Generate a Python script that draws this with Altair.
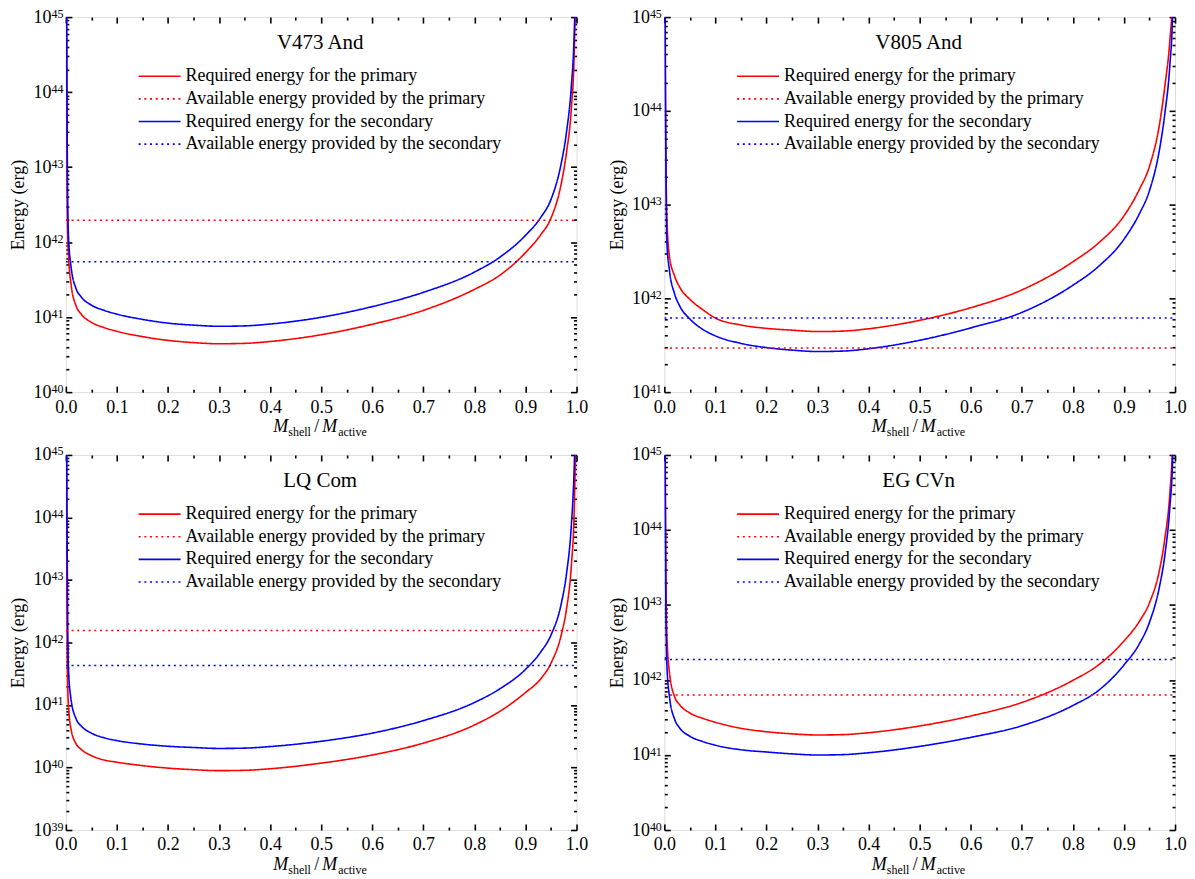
import altair as alt
import pandas as pd

# ---------------- data ----------------
X = [0.001, 0.002, 0.003, 0.005, 0.01, 0.02, 0.03, 0.05, 0.075, 0.1, 0.15, 0.2, 0.25, 0.3, 0.35,
     0.4, 0.5, 0.6, 0.7, 0.8, 0.85, 0.9, 0.93, 0.95, 0.97, 0.98, 0.99, 0.995, 0.998, 0.999]

# log10 of the energy (erg)
V473_REQ_PRIMARY = [45.5, 43.3, 42.35, 41.85, 41.45, 41.15, 41.04, 40.93, 40.86, 40.81, 40.74, 40.69, 40.66, 40.645, 40.65,
                    40.675, 40.765, 40.905, 41.09, 41.37, 41.56, 41.86, 42.10, 42.32, 42.78, 43.18, 43.8, 44.42, 45.3, 45.7]
V473_REQ_SECONDARY = [46.0, 44.4, 43.0, 42.1, 41.68, 41.38, 41.27, 41.16, 41.09, 41.04, 40.97, 40.92, 40.893, 40.878, 40.883,
                      40.908, 40.998, 41.14, 41.33, 41.60, 41.80, 42.09, 42.33, 42.57, 43.05, 43.45, 44.1, 44.7, 45.5, 46.0]
V805_REQ_PRIMARY = [46.0, 44.3, 43.6, 42.85, 42.45, 42.24, 42.12, 41.99, 41.88, 41.79, 41.716, 41.68, 41.661, 41.646, 41.651,
                    41.676, 41.766, 41.90, 42.09, 42.39, 42.59, 42.88, 43.16, 43.41, 43.87, 44.26, 44.76, 45.2, 46.0, 46.5]
V805_REQ_SECONDARY = [46.0, 44.5, 43.5, 42.6, 42.3, 42.05, 41.92, 41.78, 41.67, 41.60, 41.52, 41.475, 41.448, 41.433, 41.438,
                      41.463, 41.553, 41.685, 41.85, 42.14, 42.34, 42.63, 42.9, 43.15, 43.6, 43.97, 44.5, 45.0, 45.8, 46.3]
LQCOM_REQ_PRIMARY = [45.5, 42.8, 41.6, 41.0, 40.62, 40.38, 40.29, 40.19, 40.12, 40.085, 40.03, 39.99, 39.965, 39.95, 39.955,
                     39.98, 40.07, 40.20, 40.39, 40.68, 40.90, 41.20, 41.42, 41.67, 42.12, 42.52, 43.25, 44.0, 45.1, 45.6]
LQCOM_REQ_SECONDARY = [46.0, 44.5, 43.0, 41.6, 41.1, 40.78, 40.665, 40.55, 40.475, 40.43, 40.375, 40.34, 40.32, 40.305, 40.31,
                       40.335, 40.42, 40.55, 40.75, 41.04, 41.26, 41.57, 41.85, 42.12, 42.62, 43.08, 43.9, 44.7, 45.6, 46.0]
EGCVN_REQ_PRIMARY = [46.0, 44.6, 43.5, 42.6, 42.1, 41.78, 41.67, 41.56, 41.49, 41.436, 41.356, 41.31, 41.282, 41.267, 41.272,
                     41.297, 41.387, 41.52, 41.70, 41.995, 42.2, 42.52, 42.78, 43.03, 43.48, 43.88, 44.5, 45.1, 45.9, 46.4]
EGCVN_REQ_SECONDARY = [46.0, 44.2, 43.0, 42.2, 41.78, 41.48, 41.36, 41.25, 41.18, 41.13, 41.07, 41.04, 41.015, 41.0, 41.005,
                       41.03, 41.115, 41.235, 41.39, 41.66, 41.86, 42.20, 42.48, 42.77, 43.26, 43.66, 44.32, 44.9, 45.8, 46.3]

# available energies (log10 erg): primary, secondary
V473_AVAIL = [42.29, 41.737]
V805_AVAIL = [41.471, 41.79]
LQCOM_AVAIL = [42.19, 41.633]
EGCVN_AVAIL = [41.80, 42.274]

NAMES = ["V473 And", "V805 And", "LQ Com", "EG CVn"]
YMIN_EXP = [40, 41, 39, 40]

SERIES = ["Required energy for the primary", "Available energy provided by the primary",
          "Required energy for the secondary", "Available energy provided by the secondary"]
COLORS = ["#ff0000", "#ff0000", "#0000ff", "#0000ff"]
DASHES = [[1, 0], [2, 3.7], [1, 0], [2, 3.7]]

X_MAJOR = [round(i * 0.1, 1) for i in range(11)]
X_TICKS = [round(i * 0.05, 2) for i in range(21)]

# ---------------- styling ----------------
W, H = 512, 376
FONT = "Liberation Serif"

XMAJ_TEST = "abs(datum.value*10 - round(datum.value*10)) < 0.001"
YMAJ_TEST = "abs(log(datum.value)/LN10 - round(log(datum.value)/LN10)) < 0.001"

ONE = pd.DataFrame({"k": [0]})


def piece(text, x, dy, size, italic):
    return alt.Chart(ONE).mark_text(
        text=text, font=FONT, fontSize=size, fontStyle="italic" if italic else "normal",
        align="left", baseline="alphabetic", color="black"
    ).encode(x=alt.value(x), y=alt.value(H + dy))


def panel(name, req_p, req_s, avail, lo):
    req = pd.DataFrame({
        "x": X + X,
        "E": [10.0 ** v for v in req_p] + [10.0 ** v for v in req_s],
        "series": [SERIES[0]] * len(X) + [SERIES[2]] * len(X),
    })
    avp = pd.DataFrame({"x": [0.0, 1.0], "E": [10.0 ** avail[0]] * 2, "series": [SERIES[1]] * 2})
    avs = pd.DataFrame({"x": [0.0, 1.0], "E": [10.0 ** avail[1]] * 2, "series": [SERIES[3]] * 2})

    xs = alt.Scale(domain=[0, 1], nice=False, zero=False)
    ys = alt.Scale(type="log", domain=[10.0 ** lo, 1e45], nice=False)
    ymaj = [10.0 ** e for e in range(lo, 46)]
    yticks = [m * 10.0 ** d for d in range(lo, 45) for m in range(1, 10)] + [1e45]

    leg = alt.Legend(
        title="\u00a0\u00a0" + name, orient="none", legendX=73, legendY=15, direction="vertical",
        titleFontSize=21, titleFont=FONT, titleFontWeight="normal", titleColor="black",
        titleAnchor="middle", titleAlign="center", titlePadding=14.3,
        labelFontSize=18, labelFont=FONT, labelColor="black", labelOffset=17, labelLimit=800,
        symbolType="M-2.625,0H2.625", symbolSize=256, symbolOffset=12, symbolStrokeWidth=1.6,
        rowPadding=4.7, padding=0, offset=0,
    )
    color = alt.Color("series:N", scale=alt.Scale(domain=SERIES, range=COLORS), legend=leg)
    dash = alt.StrokeDash("series:N", scale=alt.Scale(domain=SERIES, range=DASHES), legend=leg)

    x_lab = alt.Axis(orient="bottom", values=X_MAJOR, format=".1f", labelFlush=False, ticks=False, tickSize=0,
                     domain=False, grid=False, labelPadding=6, labelFontSize=18, labelFont=FONT,
                     labelColor="black", title=None)
    # "10" part of the y tick labels
    y_lab = alt.Axis(orient="left", values=ymaj, labelExpr="'10'", ticks=False, tickSize=0,
                     domain=False, grid=False, labelPadding=15, labelFontSize=18, labelFont=FONT,
                     labelColor="black", title="Energy (erg)", titleFontSize=18, titleFont=FONT,
                     titleFontWeight="normal", titleColor="black", titleX=-38, titleY=H / 2,
                     titleBaseline="bottom", titleAngle=270)
    # exponent part of the y tick labels
    y_exp = alt.Axis(orient="left", values=ymaj, labelExpr="'' + round(log(datum.value)/LN10)", ticks=False,
                     tickSize=0, domain=False, grid=False, labelPadding=3, labelFontSize=12, labelFont=FONT,
                     labelColor="black", labelOffset=-4, title=None)

    def xt(orient):
        return alt.Axis(orient=orient, offset=-H, values=X_TICKS, labels=False, domain=False, grid=False,
                        ticks=True, tickColor="black", tickWidth=1.6,
                        tickSize={"condition": {"test": XMAJ_TEST, "value": 6}, "value": 3}, title=None)

    def yt(orient):
        return alt.Axis(orient=orient, offset=-W, values=yticks, labels=False, domain=False, grid=False,
                        ticks=True, tickColor="black", tickWidth=1.6,
                        tickSize={"condition": {"test": YMAJ_TEST, "value": 6}, "value": 3}, title=None)

    req_layer = alt.Chart(req).mark_line(clip=True, strokeWidth=1.6, interpolate="monotone").encode(
        x=alt.X("x:Q", scale=xs, axis=x_lab),
        y=alt.Y("E:Q", scale=ys, axis=y_lab),
        color=color, strokeDash=dash, detail="series:N",
    )
    avp_layer = alt.Chart(avp).mark_line(clip=True, strokeWidth=1.5).encode(
        x=alt.X("x:Q", scale=xs, axis=xt("top")),
        y=alt.Y("E:Q", scale=ys, axis=yt("right")),
        color=color, strokeDash=dash,
    )
    avs_layer = alt.Chart(avs).mark_line(clip=True, strokeWidth=1.5).encode(
        x=alt.X("x:Q", scale=xs, axis=xt("bottom")),
        y=alt.Y("E:Q", scale=ys, axis=yt("left")),
        color=color, strokeDash=dash,
    )
    exp_layer = alt.Chart(avp).mark_line(opacity=0).encode(
        x=alt.X("x:Q", scale=xs, axis=None),
        y=alt.Y("E:Q", scale=ys, axis=y_exp),
    )
    pieces = [
        piece("M", 208, 40, 18, True),
        piece("shell", 223, 44, 12, False),
        piece("/", 249, 40, 18, False),
        piece("M", 257, 40, 18, True),
        piece("active", 273, 44, 12, False),
    ]
    return alt.layer(req_layer, avp_layer, avs_layer, exp_layer, *pieces).resolve_axis(
        x="independent", y="independent").properties(width=W, height=H)


REQ_P = [V473_REQ_PRIMARY, V805_REQ_PRIMARY, LQCOM_REQ_PRIMARY, EGCVN_REQ_PRIMARY]
REQ_S = [V473_REQ_SECONDARY, V805_REQ_SECONDARY, LQCOM_REQ_SECONDARY, EGCVN_REQ_SECONDARY]
AV = [V473_AVAIL, V805_AVAIL, LQCOM_AVAIL, EGCVN_AVAIL]

P = [panel(NAMES[i], REQ_P[i], REQ_S[i], AV[i], YMIN_EXP[i]) for i in range(4)]

row1 = alt.hconcat(P[0], P[1], spacing=19).resolve_scale(color="independent", strokeDash="independent")
row2 = alt.hconcat(P[2], P[3], spacing=19).resolve_scale(color="independent", strokeDash="independent")
chart = alt.vconcat(row1, row2, spacing=5).resolve_scale(
    color="independent", strokeDash="independent"
).properties(
    padding={"left": 1, "top": -3, "right": 0, "bottom": 0}
).configure_view(stroke="black", strokeWidth=2).configure(background="white")

chart.save("out.html", embed_options={"renderer": "svg", "actions": False})
